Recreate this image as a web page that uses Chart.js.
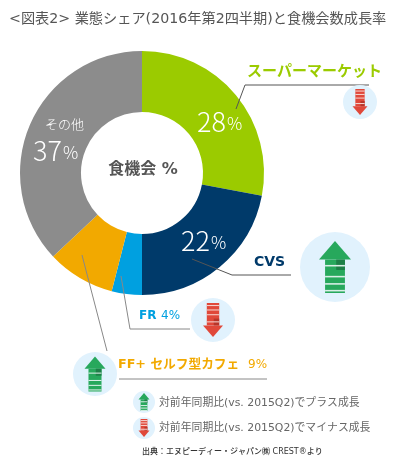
<!DOCTYPE html>
<html lang="ja">
<head>
    <meta charset="UTF-8">
    <title>業態シェア</title>
    <script src="https://cdn.jsdelivr.net/npm/chart.js"></script>
    <style>
        html, body { margin: 0; padding: 0; background: #fff; }
        canvas { display: block; }
    </style>
</head>
<body>
<canvas id="shareChart" width="393" height="460"></canvas>
<script>
    const categories = ['スーパーマーケット', 'CVS', 'FR', 'FF+ セルフ型カフェ', 'その他'];
    const shares = [28, 22, 4, 9, 37];
    const sliceColors = ['#9bcb00', '#003a6a', '#00a0e0', '#f2a900', '#8c8c8c'];
    const titleText = '<図表2> 業態シェア(2016年第2四半期)と食機会数成長率';
    const centerText = '食機会 %';
    const legendUp = '対前年同期比(vs. 2015Q2)でプラス成長';
    const legendDown = '対前年同期比(vs. 2015Q2)でマイナス成長';
    const sourceText = '出典：エヌピーディー・ジャパン㈱ CREST®より';

    // Latin goes to DejaVu (wide, like the original), kana/kanji fall through to Noto CJK
    const FONT = '"DejaVu Sans", "Noto Sans CJK JP", sans-serif';
    const THIN = '"Noto Sans CJK JP", sans-serif';

    function text(ctx, str, x, y, font, color, align, family) {
        ctx.font = font + ' ' + (family || FONT);
        ctx.fillStyle = color;
        ctx.textAlign = align || 'left';
        ctx.textBaseline = 'middle';
        ctx.fillText(str, x, y);
    }

    function line(ctx, points, color) {
        ctx.strokeStyle = color;
        ctx.lineWidth = 1;
        ctx.beginPath();
        points.forEach(function(p, i) {
            if (i === 0) ctx.moveTo(p[0], p[1]);
            else ctx.lineTo(p[0], p[1]);
        });
        ctx.stroke();
    }

    // circle + striped arrow
    function arrowIcon(ctx, cx, cy, r, up, headW, len) {
        const main = up ? '#27a85c' : '#e0483a';
        const dark = up ? '#1d7f47' : '#b8352a';
        const dir = up ? -1 : 1;
        const shaftW = headW * 0.62;
        const headH = headW * 0.58;
        const tip = cy + dir * len / 2;
        const tail = cy - dir * len / 2;
        const base = tip - dir * headH;

        ctx.fillStyle = '#e1f2fd';
        ctx.beginPath();
        ctx.arc(cx, cy, r, 0, Math.PI * 2);
        ctx.fill();

        ctx.fillStyle = main;
        ctx.beginPath();
        ctx.moveTo(cx, tip);
        ctx.lineTo(cx + headW / 2, base);
        ctx.lineTo(cx - headW / 2, base);
        ctx.closePath();
        ctx.fill();

        ctx.fillRect(cx - shaftW / 2, Math.min(base, tail), shaftW, Math.abs(base - tail));

        // darker fold on one side of the arrow
        ctx.fillStyle = dark;
        ctx.fillRect(cx + shaftW * 0.06, Math.min(base, base - dir * len * 0.2), shaftW * 0.44, len * 0.2);

        // pale stripes towards the tail
        ctx.fillStyle = up ? '#d9efe6' : '#f6d5d0';
        [0.06, 0.19, 0.33, 0.54].forEach(function(f) {
            const sy = tail + dir * len * f;
            ctx.fillRect(cx - shaftW / 2, sy, shaftW, Math.max(1, len * 0.03));
        });
    }

    const annotations = {
        id: 'annotations',
        afterDraw: function(chart) {
            const ctx = chart.ctx;
            ctx.save();

            text(ctx, titleText, 9, 19, '14.2px', '#555');

            // labels inside the ring
            function pct(value, x, y) {
                text(ctx, String(value), x, y, '300 27px', '#fff', 'left', THIN);
                const w = ctx.measureText(String(value)).width;
                text(ctx, '%', x + w + 1, y + 2, '300 17px', '#fff', 'left', THIN);
            }
            pct(shares[0], 197, 122);
            pct(shares[1], 181, 241);
            pct(shares[4], 33, 151);
            text(ctx, categories[4], 45, 124, '300 13px', '#fff', 'left', THIN);
            text(ctx, centerText, 143, 170, 'bold 16px', '#555', 'center');

            // leader lines
            line(ctx, [[236, 109], [245, 85], [369, 85]], '#555');
            line(ctx, [[192, 259], [232, 275], [291, 275]], '#555');
            line(ctx, [[121, 276], [130, 329], [190, 329]], '#888');
            line(ctx, [[82, 255], [107, 351]], '#888');
            line(ctx, [[119, 379], [267, 379]], '#888');

            // outside labels
            text(ctx, categories[0], 247, 72, 'bold 15px', sliceColors[0]);
            text(ctx, categories[1], 254, 262, 'bold 14px', sliceColors[1]);
            text(ctx, categories[2], 139, 316, 'bold 12px', sliceColors[2]);
            text(ctx, shares[2] + '%', 161, 316, '12px', sliceColors[2]);
            text(ctx, categories[3], 118, 365, 'bold 12.7px', sliceColors[3]);
            text(ctx, shares[3] + '%', 248, 365, '12px', sliceColors[3]);

            // growth icons
            arrowIcon(ctx, 360, 102, 17, false, 15, 26);
            arrowIcon(ctx, 335, 267, 35, true, 32, 52);
            arrowIcon(ctx, 213, 320, 22, false, 20, 34);
            arrowIcon(ctx, 95, 374, 22, true, 21, 35);
            arrowIcon(ctx, 144, 402, 11, true, 11, 18);
            arrowIcon(ctx, 144, 428, 11, false, 11, 18);

            // key + source
            text(ctx, legendUp, 159, 403, '10.85px', '#666');
            text(ctx, legendDown, 159, 428, '10.85px', '#666');
            text(ctx, sourceText, 142, 452, '500 8px', '#333');

            ctx.restore();
        }
    };

    new Chart(document.getElementById('shareChart').getContext('2d'), {
        type: 'doughnut',
        data: {
            labels: categories,
            datasets: [{
                data: shares,
                backgroundColor: sliceColors,
                borderWidth: 0
            }]
        },
        options: {
            responsive: false,
            animation: false,
            cutout: '50%',
            layout: { padding: { left: 20, right: 129, top: 51, bottom: 165 } },
            plugins: {
                legend: { display: false },
                tooltip: { enabled: false }
            }
        },
        plugins: [annotations]
    });
</script>
</body>
</html>
